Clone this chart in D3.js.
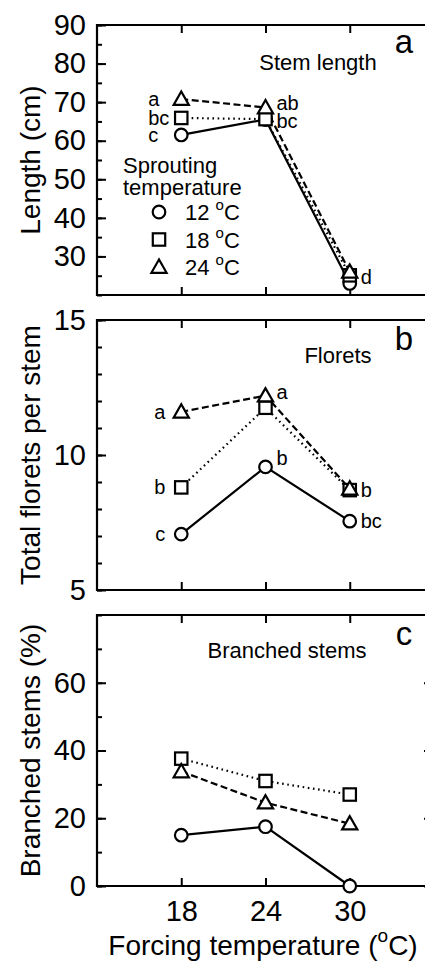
<!DOCTYPE html>
<html>
<head>
<meta charset="utf-8">
<script src="https://cdn.jsdelivr.net/npm/d3@7/dist/d3.min.js"></script>
<style>
  body { margin: 0; background: #fff; }
  svg { display: block; font-family: "Liberation Sans", Arial, sans-serif; }
</style>
</head>
<body>
<svg id="chart" width="425" height="963"></svg>
<script>
// forcing temperatures on the x axis
var forcingTemps = [18, 24, 30];
// sprouting temperature series: circle, square, triangle
var sproutTemps = ["12", "18", "24"];
var seriesShapes = ["circle", "square", "triangle"];
var seriesDash = [null, "1.6,3.6", "7,3.5"];

// stem length (cm)
var lengthCircle = [61.5, 65.5, 23.0];
var lengthSquare = [65.9, 65.6, 25.1];
var lengthTriangle = [70.8, 68.6, 26.0];
var lengthLetters = [["c", "bc", null], [ "bc", null, "d"], ["a", "ab", null]];

// florets per stem
var floretCircle = [7.07, 9.56, 7.55];
var floretSquare = [8.8, 11.75, 8.7];
var floretTriangle = [11.6, 12.2, 8.75];
var floretLetters = [["c", "b", "bc"], ["b", null, "b"], ["a", "a", null]];

// branched stems (%)
var branchCircle = [15.0, 17.5, 0];
var branchSquare = [37.6, 31.0, 27.0];
var branchTriangle = [33.8, 24.6, 18.4];
var branchLetters = [[null, null, null], [null, null, null], [null, null, null]];

var lengthTicks = [30, 40, 50, 60, 70, 80, 90];
var floretTicks = [5, 10, 15];
var branchTicks = [0, 20, 40, 60];

var svg = d3.select("#chart");
var font = "'Liberation Sans', Arial, sans-serif";

var x = d3.scaleLinear().domain([12, 36]).range([97, 434]);

var panels = [
    {id: "a", title: "Stem length", titleX: 318, titleY: 70, letterY: 53,
     yLabel: "Length (cm)", domain: [20, 90], range: [295, 25], ticks: lengthTicks, minor: 5,
     series: [lengthCircle, lengthSquare, lengthTriangle], letters: lengthLetters,
     nudge: {"2-1": -5, "0-1": 1, "1-2": 2}, leftGap: [23, 12, 22], rightTicks: false},
    {id: "b", title: "Florets", titleX: 338, titleY: 363, letterY: 350,
     yLabel: "Total florets per stem", domain: [5, 15], range: [590, 320], ticks: floretTicks, minor: 1,
     series: [floretCircle, floretSquare, floretTriangle], letters: floretLetters,
     nudge: {"2-1": -4, "0-1": -9}, leftGap: [16, 16, 16], rightTicks: false},
    {id: "c", title: "Branched stems", titleX: 287, titleY: 658, letterY: 645,
     yLabel: "Branched stems (%)", domain: [0, 80], range: [886, 615], ticks: branchTicks, minor: 10,
     series: [branchCircle, branchSquare, branchTriangle], letters: branchLetters,
     nudge: {}, leftGap: [16, 16, 16], rightTicks: true}
];

var DrawMarker = function(g, shape, cx, cy){
    if(shape == "circle"){
        g.append("circle").attr("cx", cx).attr("cy", cy).attr("r", 6.3)
            .attr("fill", "#fff").attr("stroke", "#000").attr("stroke-width", 2.2);
    } else if(shape == "square"){
        g.append("rect").attr("x", cx - 6.2).attr("y", cy - 6.2).attr("width", 12.4).attr("height", 12.4)
            .attr("fill", "#fff").attr("stroke", "#000").attr("stroke-width", 2.2);
    } else {
        var d = ["M", cx, cy - 7.5, "L", cx - 7.6, cy + 5.8, "L", cx + 7.6, cy + 5.8, "Z"].join(" ");
        g.append("path").attr("d", d)
            .attr("fill", "#fff").attr("stroke", "#000").attr("stroke-width", 2.2).attr("stroke-linejoin", "miter");
    }
};

panels.forEach(function(p){
    var y = d3.scaleLinear().domain(p.domain).range(p.range);
    var g = svg.append("g");
    var top = p.range[1], bottom = p.range[0];

    // minor ticks, left
    g.append("g").attr("transform", "translate(" + x(12) + ",0)")
        .call(d3.axisLeft(y).tickValues(d3.range(p.domain[0], p.domain[1] + 0.001, p.minor)).tickSize(-5).tickFormat(""))
        .call(function(s){ s.select(".domain").remove(); s.selectAll("line").attr("stroke-width", 2); });

    // major ticks + labels, left
    g.append("g").attr("transform", "translate(" + x(12) + ",0)")
        .call(d3.axisLeft(y).tickValues(p.ticks).tickSize(-9).tickPadding(11))
        .call(function(s){
            s.select(".domain").remove();
            s.selectAll("line").attr("stroke-width", 2);
            s.selectAll("text").attr("font-size", 29).attr("font-family", font).attr("fill", "#000");
        });

    if(p.rightTicks){
        g.append("g").attr("transform", "translate(" + x(36) + ",0)")
            .call(d3.axisRight(y).tickValues(p.ticks).tickSize(-10).tickFormat(""))
            .call(function(s){ s.select(".domain").remove(); s.selectAll("line").attr("stroke-width", 2); });
    }

    // top & bottom ticks
    g.append("g").attr("transform", "translate(0," + top + ")")
        .call(d3.axisTop(x).tickValues(forcingTemps).tickSize(-8).tickFormat(""))
        .call(function(s){ s.select(".domain").remove(); s.selectAll("line").attr("stroke-width", 2); });
    var bx = g.append("g").attr("transform", "translate(0," + bottom + ")")
        .call(d3.axisBottom(x).tickValues(forcingTemps).tickSize(-8).tickPadding(14))
        .call(function(s){ s.select(".domain").remove(); s.selectAll("line").attr("stroke-width", 2); });
    if(p.id == "c"){
        bx.selectAll("text").attr("font-size", 29).attr("font-family", font).attr("fill", "#000");
    } else {
        bx.selectAll("text").remove();
    }

    // frame
    g.append("path")
        .attr("d", ["M", x(36), top, "H", x(12), "V", bottom, "H", x(36)].join(" "))
        .attr("fill", "none").attr("stroke", "#000").attr("stroke-width", 2.2);

    // y axis title
    g.append("text")
        .attr("transform", "translate(40," + (top + bottom) / 2 + ") rotate(-90)")
        .attr("text-anchor", "middle").attr("font-size", 28).attr("font-family", font)
        .text(p.yLabel);

    // panel title and letter
    g.append("text").attr("x", p.titleX).attr("y", p.titleY).attr("text-anchor", "middle")
        .attr("font-size", 22).attr("font-family", font).text(p.title);
    g.append("text").attr("x", 404).attr("y", p.letterY).attr("text-anchor", "middle")
        .attr("font-size", 33).attr("font-family", font).text(p.id);

    // lines
    p.series.forEach(function(vals, si){
        var line = d3.line().x(function(d, i){ return x(forcingTemps[i]); }).y(function(d){ return y(d); });
        g.append("path").datum(vals).attr("d", line)
            .attr("fill", "none").attr("stroke", "#000").attr("stroke-width", 2.2)
            .attr("stroke-dasharray", seriesDash[si]);
    });

    // markers
    p.series.forEach(function(vals, si){
        vals.forEach(function(v, i){ DrawMarker(g, seriesShapes[si], x(forcingTemps[i]), y(v)); });
    });

    // significance letters
    p.letters.forEach(function(row, si){
        row.forEach(function(t, i){
            if(!t) return;
            var px = x(forcingTemps[i]), py = y(p.series[si][i]);
            var dy = p.nudge[si + "-" + i] || 0;
            g.append("text")
                .attr("x", i == 0 ? px - p.leftGap[si] : px + 11)
                .attr("y", py + dy + 7)
                .attr("text-anchor", i == 0 ? "end" : "start")
                .attr("font-size", 20).attr("font-family", font).text(t);
        });
    });
});

// legend in panel a
var legend = svg.append("g");
legend.append("text").attr("x", 123).attr("y", 173).attr("font-size", 22).attr("font-family", font).text("Sprouting");
legend.append("text").attr("x", 123).attr("y", 195).attr("font-size", 22).attr("font-family", font).text("temperature");
sproutTemps.forEach(function(t, i){
    var cy = 212 + i * 27.5;
    DrawMarker(legend, seriesShapes[i], 159, cy);
    var txt = legend.append("text").attr("x", 185).attr("y", cy + 8).attr("font-size", 22).attr("font-family", font);
    txt.append("tspan").text(t + " ");
    txt.append("tspan").attr("font-size", 15).attr("dy", -10).text("o");
    txt.append("tspan").attr("dy", 10).text("C");
});

// x axis title
var xt = svg.append("text").attr("x", 263).attr("y", 955).attr("text-anchor", "middle")
    .attr("font-size", 28).attr("font-family", font);
xt.append("tspan").text("Forcing temperature (");
xt.append("tspan").attr("font-size", 19).attr("dy", -13).text("o");
xt.append("tspan").attr("dy", 13).text("C)");
</script>
</body>
</html>
